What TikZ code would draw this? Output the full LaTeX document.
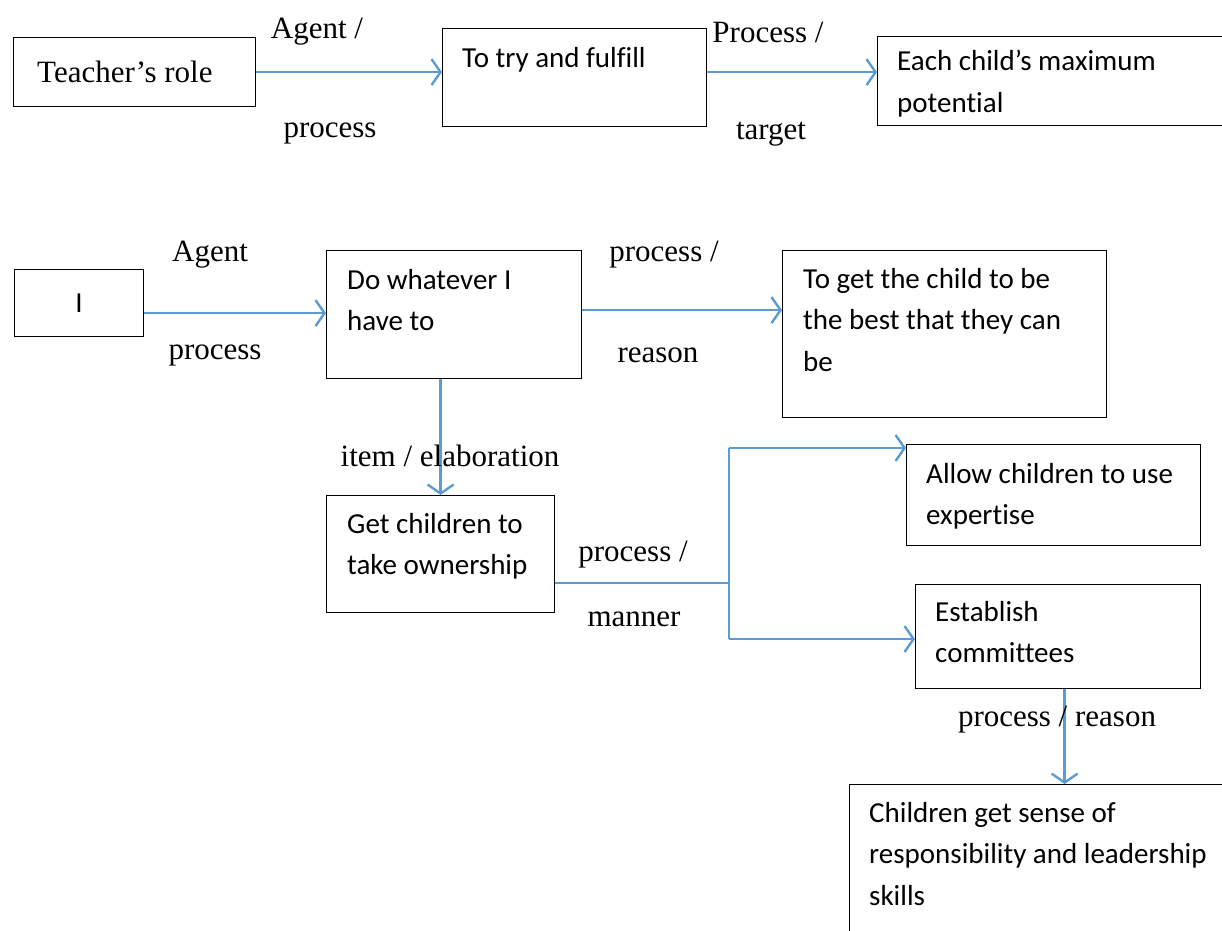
\documentclass[tikz,border=0pt]{standalone}
\usepackage{fontspec}
\setmainfont{Liberation Serif}
\newfontfamily\calibri{Carlito}[Ligatures=NoCommon]
\usepackage{tikz}
\usetikzlibrary{arrows.meta,positioning}
\definecolor{linkblue}{RGB}{91,155,213}

\tikzset{
  box/.style={draw, line width=1.2pt, anchor=north west, inner sep=0pt},
  boxtext/.style={inner sep=0pt, align=left, font=\calibri\fontsize{29}{41.5}\selectfont},
  tag/.style={inner sep=0pt, font=\fontsize{31}{36}\selectfont},
  link/.style={linkblue, line width=2.4pt, -{Straight Barb[length=9pt,width=26pt]}},
  branch/.style={linkblue, line width=1.3pt},
}

\begin{document}
\begin{tikzpicture}[x=1pt,y=-1pt]
\clip (0,0) rectangle (1222,930);

% First row
\node[box, minimum width=242pt, minimum height=69pt] (role) at (13,37) {};
\node[tag, right=24pt of role.west] (roletxt) {Teacher’s role};
\node[box, minimum width=264pt, minimum height=98pt] (fulfil) at (442,28) {};
\node[boxtext, below right=19pt and 20pt of fulfil.north west] (fulfiltxt) {To try and fulfill};
\node[box, minimum width=360pt, minimum height=89pt] (child) at (877,36) {};
\node[boxtext, below right=14pt and 20pt of child.north west] (childtxt) {Each child’s maximum\\potential};

\draw[link] (role.east) -- (role.east -| fulfil.west);
\draw[link] (role.east -| fulfil.east) -- (role.east -| child.west);

\node[tag] (agentA) at (317,32) {Agent /};
\node[tag] (processA) at (330,133) {process};
\node[tag] (processB) at (768,32) {Process /};
\node[tag] (target) at (771,134) {target};

% Second row
\node[box, minimum width=129pt, minimum height=67pt, font=\calibri\fontsize{29}{35}\selectfont] (me) at (14,269) {I};
\node[box, minimum width=255pt, minimum height=128pt] (whatever) at (326,250) {};
\node[boxtext, below right=19pt and 21pt of whatever.north west] (whatevertxt) {Do whatever I\\have to};
\node[box, minimum width=324pt, minimum height=167pt] (best) at (782,250) {};
\node[boxtext, below right=18pt and 21pt of best.north west] (besttxt) {To get the child to be\\the best that they can\\be};

\draw[link] ([yshift=-10pt]me.east) -- ([yshift=-10pt]me.east -| whatever.west);
\draw[link] ([yshift=4.5pt]whatever.east) -- ([yshift=4.5pt]whatever.east -| best.west);

\node[tag] (agentC) at (210,255) {Agent};
\node[tag] (processC) at (215,355) {process};
\node[tag] (processD) at (664,255) {process /};
\node[tag] (reasonA) at (658,355) {reason};

% Elaboration and manner
\node[box, minimum width=228pt, minimum height=117pt] (own) at (326,495) {};
\node[boxtext, below right=18pt and 21pt of own.north west] (owntxt) {Get children to\\take ownership};
\draw[link] (own.north |- whatever.south) -- (own.north);
\node[tag] (item) at (450,456) {item / elaboration};

\node[box, minimum width=294pt, minimum height=101pt] (allow) at (906,444) {};
\node[boxtext, below right=19pt and 20pt of allow.north west] (allowtxt) {Allow children to use\\expertise};
\node[box, minimum width=285pt, minimum height=104pt] (est) at (915,584) {};
\node[boxtext, below right=17pt and 20pt of est.north west] (esttxt) {Establish\\committees};

\coordinate (fork) at (729,583);
\coordinate (forkup) at (729,448);
\coordinate (forkdown) at (729,639);
\draw[branch] (fork -| own.east) -- (fork);
\draw[branch] (forkup) -- (forkdown);
\draw[link] (forkup) -- (forkup -| allow.west);
\draw[link] (forkdown) -- (forkdown -| est.west);
\node[tag] (processE) at (633,555) {process /};
\node[tag] (manner) at (634,619) {manner};

% Reason
\node[box, minimum width=390pt, minimum height=160pt] (sense) at (849,784) {};
\node[boxtext, below right=18pt and 20pt of sense.north west] (sensetxt) {Children get sense of\\responsibility and leadership\\skills};
\draw[link] ([xshift=6.5pt]est.south) -- ([xshift=6.5pt]est.south |- sense.north);
\node[tag] (reasonB) at (1057,720) {process / reason};
\end{tikzpicture}
\end{document}
